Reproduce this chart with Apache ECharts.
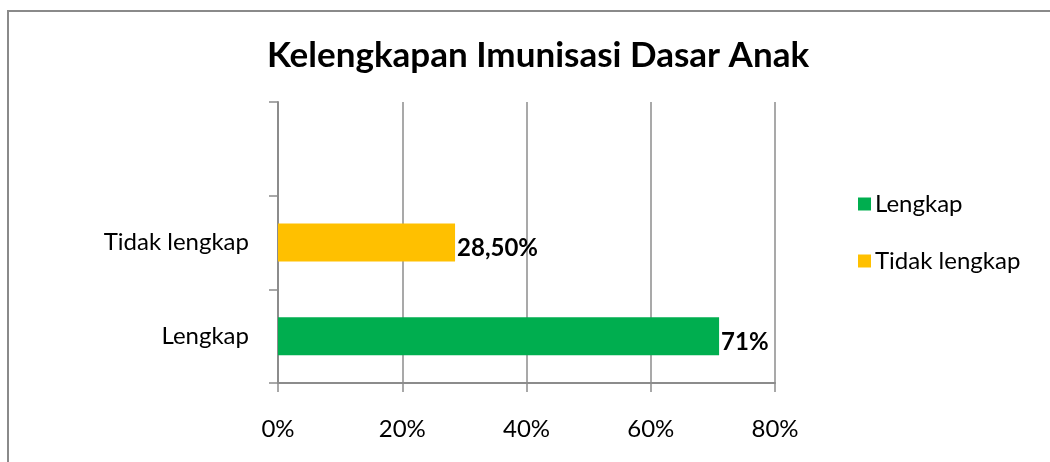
<!DOCTYPE html>
<html>
<head>
<meta charset="utf-8">
<script src="https://cdn.jsdelivr.net/npm/echarts@6/dist/echarts.min.js"></script>
<style>
  html, body { margin: 0; padding: 0; background: #fff; }
  #chart { width: 1050px; height: 462px; }
</style>
</head>
<body>
<div id="chart"></div>
<script>
// kategori (bawah ke atas), slot paling atas kosong
let categories = ['Lengkap', 'Tidak lengkap', ''];
let lengkapValues = [71, null, null];
let tidakLengkapValues = [null, 28.5, null];
let barLabels = { 'Lengkap': '71%', 'Tidak lengkap': '28,50%' };
let xTicks = [0, 20, 40, 60, 80];

let font = 'Lato, "Open Sans", sans-serif';
let axisGray = '#8c8c8c';

let chart = echarts.init(document.getElementById('chart'));

let labelOpt = {
    show: true,
    position: 'right',
    distance: 2,
    offset: [0, 6],
    fontFamily: font,
    fontSize: 24,
    fontWeight: 'bold',
    color: '#000',
    formatter: function(p) { return barLabels[p.seriesName]; }
};

let option = {
    animation: false,
    backgroundColor: '#fff',
    title: {
        text: 'Kelengkapan Imunisasi Dasar Anak',
        left: 533,
        textAlign: 'center',
        top: 33,
        textStyle: { fontFamily: font, fontSize: 35, fontWeight: 'bold', color: '#000' }
    },
    legend: {
        orient: 'vertical',
        left: 853,
        top: 187,
        itemWidth: 13,
        itemHeight: 13,
        itemGap: 33,
        icon: 'rect',
        textStyle: { fontFamily: font, fontSize: 24, color: '#000', padding: [0, 0, 0, -1] },
        data: ['Lengkap', 'Tidak lengkap']
    },
    grid: { left: 278, right: 275, top: 102, bottom: 79, containLabel: false },
    xAxis: {
        type: 'value',
        min: xTicks[0],
        max: xTicks[xTicks.length - 1],
        interval: 20,
        axisLine: { show: true, lineStyle: { color: axisGray, width: 2 } },
        axisTick: { show: true, length: 9, lineStyle: { color: axisGray, width: 1.5 } },
        splitLine: { show: true, lineStyle: { color: axisGray, width: 1.5 } },
        axisLabel: { margin: 34, fontFamily: font, fontSize: 24, color: '#000', formatter: '{value}%' }
    },
    yAxis: {
        type: 'category',
        data: categories,
        axisLine: { show: true, lineStyle: { color: axisGray, width: 2 } },
        axisTick: { show: true, length: 9, lineStyle: { color: axisGray, width: 1.5 } },
        axisLabel: { margin: 29, fontFamily: font, fontSize: 24, color: '#000' }
    },
    series: [
        {
            name: 'Lengkap',
            type: 'bar',
            stack: 'total',
            data: lengkapValues,
            barWidth: 38,
            itemStyle: { color: '#00ae4f' },
            label: labelOpt
        },
        {
            name: 'Tidak lengkap',
            type: 'bar',
            stack: 'total',
            data: tidakLengkapValues,
            barWidth: 38,
            itemStyle: { color: '#ffc000' },
            label: labelOpt
        }
    ],
    graphic: [
        {
            type: 'polyline',
            shape: { points: [[8, 470], [8, 11], [1060, 11]] },
            style: { stroke: '#8a8a8a', lineWidth: 2, fill: null }
        }
    ]
};

chart.setOption(option);
</script>
</body>
</html>
